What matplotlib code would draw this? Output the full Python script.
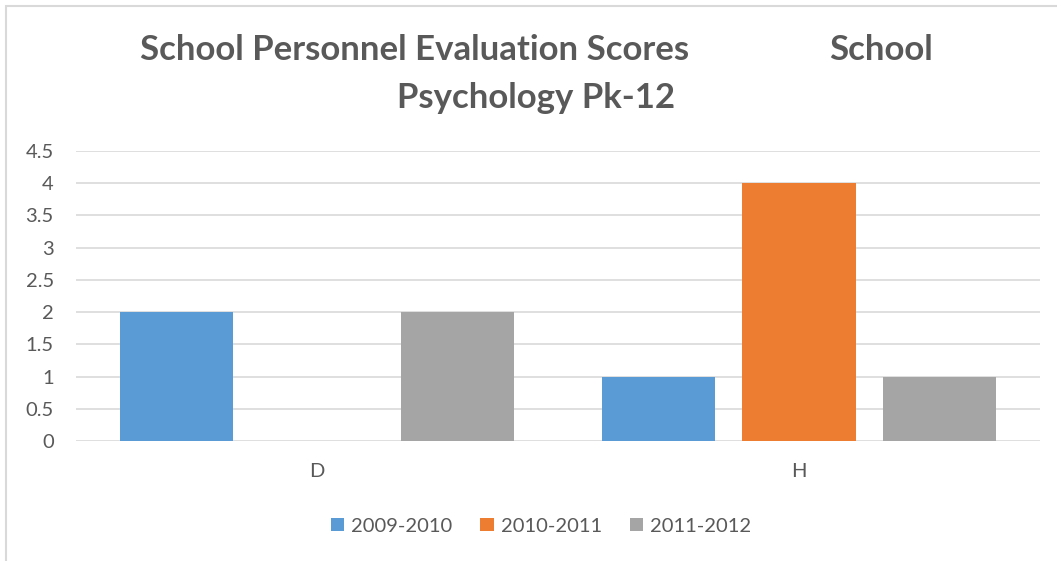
import numpy as np
import matplotlib.pyplot as plt
from matplotlib.patches import Rectangle

# data
categories = ["D", "H"]
series = ["2009-2010", "2010-2011", "2011-2012"]
scores_0910 = [2, 1]
scores_1011 = [0, 4]
scores_1112 = [2, 1]
colors = ["#5B9BD5", "#ED7D31", "#A5A5A5"]
y_ticks = [0, 0.5, 1, 1.5, 2, 2.5, 3, 3.5, 4, 4.5]
y_tick_labels = ["0", "0.5", "1", "1.5", "2", "2.5", "3", "3.5", "4", "4.5"]

txt = "#595959"
grid = "#D9D9D9"
plt.rcParams['font.family'] = ['Lato', 'DejaVu Sans']

W, H = 1057, 561
fig = plt.figure(figsize=(W / 100, H / 100), dpi=100)

# chart frame (light border, cut off at right/bottom)
fig.patches.append(Rectangle((6 / W, -0.1), 1.2, 1 - 6 / H + 0.1, transform=fig.transFigure,
                             fill=False, edgecolor=grid, linewidth=1.5))

ax = fig.add_axes([76 / W, 1 - 441 / H, (1040 - 76) / W, (441 - 151) / H])

x = np.arange(len(categories))
bw = 0.2345
step = 0.2925
for i, (vals, name) in enumerate(zip([scores_0910, scores_1011, scores_1112], series)):
    ax.bar(x + (i - 1) * step, vals, width=bw, color=colors[i], label=name, zorder=3)

ax.set_xlim(-0.5, 1.5)
ax.set_ylim(0, 4.5)
ax.set_yticks(y_ticks)
ax.set_yticklabels(y_tick_labels)
ax.set_xticks(x)
ax.set_xticklabels(categories)
ax.yaxis.grid(True, color=grid, linewidth=1.2, zorder=0)
ax.set_axisbelow(True)
for s in ax.spines.values():
    s.set_visible(False)
ax.tick_params(axis='y', length=0, pad=16, labelsize=14.5, labelcolor=txt)
ax.tick_params(axis='x', length=0, pad=16, labelsize=14.5, labelcolor=txt)

# title
tkw = dict(fontsize=25, fontweight='bold', color=txt, ha='center', va='center')
fig.text(415 / W, 1 - 50 / H, "School Personnel Evaluation Scores", **tkw)
fig.text(881 / W, 1 - 50 / H, "School", **tkw)
fig.text(536 / W, 1 - 98 / H, "Psychology Pk-12", **tkw)

fig.legend(loc='center', bbox_to_anchor=(541 / W, 1 - 526 / H), ncol=3, frameon=False,
           fontsize=14.5, labelcolor=txt, handlelength=0.65, handleheight=0.65,
           handletextpad=0.35, columnspacing=1.4)

fig.savefig("out.png", dpi=100)
